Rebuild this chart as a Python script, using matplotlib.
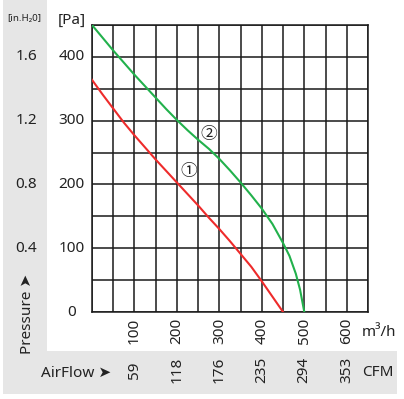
import numpy as np
import matplotlib.pyplot as plt
from matplotlib.patches import Rectangle
from matplotlib.transforms import blended_transform_factory

plt.rcParams['font.family'] = ['Noto Sans', 'DejaVu Sans']

# Courbes (debit en m3/h, pression en Pa)
flow_1 = [0, 25, 50, 75, 100, 125, 150, 175, 200, 225, 250, 275, 300, 325, 350, 375,
          400, 425, 450]
pres_1 = [364, 341, 319, 297, 277, 258, 239, 221, 203, 185, 167, 148, 130, 111, 91, 71,
          48, 24, 0]
flow_2 = [0, 25, 50, 75, 100, 125, 150, 175, 200, 225, 250, 275, 300, 325, 350, 375,
          400, 425, 450, 465, 480, 490, 500]
pres_2 = [450, 430, 410, 391, 372, 354, 336, 318, 301, 285, 270, 256, 240, 222, 203, 183,
          162, 138, 108, 88, 60, 35, 0]

# Graduations
pa_ticks = [0, 100, 200, 300, 400]
inh2o_ticks = [1.6, 1.2, 0.8, 0.4]
m3h_ticks = [100, 200, 300, 400, 500, 600]
cfm_ticks = [59, 118, 176, 235, 294, 353]

W, H = 404, 399
fig = plt.figure(figsize=(W / 100, H / 100), dpi=100)


def fx(px):
    return px / W


def fy(py):
    return 1 - py / H


# Bandes grises (gauche et bas)
gris = '#e6e6e6'
fig.add_artist(Rectangle((fx(3), fy(394)), 44 / W, 394 / H, transform=fig.transFigure,
                         facecolor=gris, edgecolor='none', zorder=0))
fig.add_artist(Rectangle((fx(3), fy(394)), 394 / W, 43 / H, transform=fig.transFigure,
                         facecolor=gris, edgecolor='none', zorder=0))

ax = fig.add_axes([fx(92), fy(312), 276 / W, 287 / H])
ax.set_xlim(0, 650)
ax.set_ylim(0, 450)
ax.set_xticks(np.arange(0, 651, 50))
ax.set_yticks(np.arange(0, 451, 50))
ax.grid(True, color='#1a1a1a', lw=1.1)
ax.tick_params(length=0, labelbottom=False, labelleft=False)
for s in ax.spines.values():
    s.set_color('#1a1a1a')
    s.set_linewidth(1.1)

# Courbes
ax.plot(flow_1, pres_1, color='#ee2b2b', lw=1.5, zorder=3)
ax.plot(flow_2, pres_2, color='#22b14c', lw=1.5, zorder=3)

sym = ['Noto Sans CJK SC', 'DejaVu Sans']
ax.text(227, 221, '①', fontsize=12, family=sym, ha='center', va='center', color='#222222')
ax.text(276, 279, '②', fontsize=12, family=sym, ha='center', va='center', color='#222222')

txt = '#222222'
# Axe des pressions
for v in pa_ticks:
    ax.text(-0.074, v, str(v), transform=ax.get_yaxis_transform(), ha='center',
            va='center', fontsize=11, color=txt)
for v in inh2o_ticks:
    ax.text(-0.239, v * 250, str(v), transform=ax.get_yaxis_transform(), ha='center',
            va='center', fontsize=11, color=txt)
fig.text(fx(71.5), fy(20), '[Pa]', ha='center', va='center', fontsize=11, color=txt)
fig.text(fx(24), fy(19), '[in.H₂0]', ha='center', va='center', fontsize=7, color=txt)
fig.text(fx(27), fy(314), 'Pressure ➤', rotation=90, ha='center', va='center',
         fontsize=11, color=txt)

# Axe des debits
trans = blended_transform_factory(ax.transData, fig.transFigure)
for v in m3h_ticks:
    ax.text(v, fy(331), str(v), transform=trans, rotation=90, ha='center', va='center',
            fontsize=11, color=txt)
for v in cfm_ticks:
    ax.text(v * 1.699, fy(370), str(v), transform=trans, rotation=90, ha='center',
            va='center', fontsize=11, color=txt)
fig.text(fx(362), fy(332), 'm³/h', ha='left', va='center', fontsize=11, color=txt)
fig.text(fx(362), fy(372), 'CFM', ha='left', va='center', fontsize=11, color=txt)
fig.text(fx(41), fy(373), 'AirFlow ➤', ha='left', va='center', fontsize=11, color=txt)

fig.savefig('out.png', dpi=100)
